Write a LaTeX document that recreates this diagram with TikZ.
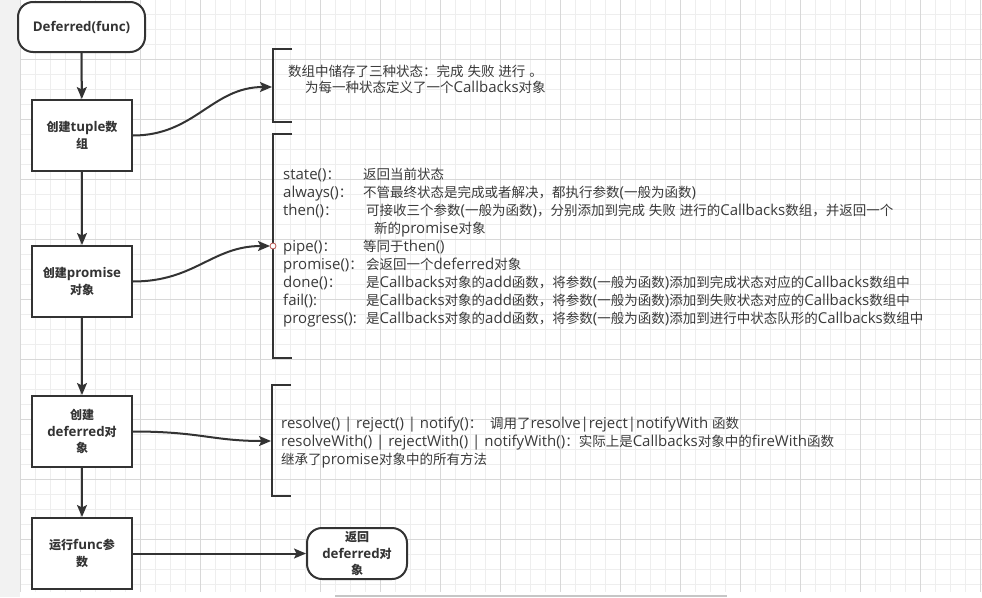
\documentclass[tikz,border=0pt]{standalone}
\usepackage{fontspec}
\setmainfont{Open Sans}[Scale=1.11]
\newfontfamily\cjkf{Noto Sans CJK SC}
\newfontfamily\latf{Open Sans}[Scale=1.11]
\XeTeXinterchartokenstate=1
\newXeTeXintercharclass\cjkcls
\newcount\cjkcnt
\cjkcnt="4E00
\loop \XeTeXcharclass\cjkcnt=\cjkcls \advance\cjkcnt by 1 \ifnum\cjkcnt<"A000 \repeat
\cjkcnt="3000
\loop \XeTeXcharclass\cjkcnt=\cjkcls \advance\cjkcnt by 1 \ifnum\cjkcnt<"3040 \repeat
\cjkcnt="FF00
\loop \XeTeXcharclass\cjkcnt=\cjkcls \advance\cjkcnt by 1 \ifnum\cjkcnt<"FFF0 \repeat
\XeTeXinterchartoks 0 \cjkcls = {\cjkf}
\XeTeXinterchartoks 4095 \cjkcls = {\cjkf}
\XeTeXinterchartoks \cjkcls 0 = {\latf}
\XeTeXinterchartoks \cjkcls 4095 = {\latf}
\usetikzlibrary{arrows.meta}
\definecolor{ink}{HTML}{333333}
\definecolor{txtc}{HTML}{3a3a3a}
\definecolor{gmin}{HTML}{EEEEEE}
\definecolor{gmaj}{HTML}{D8D8D8}
\definecolor{side}{HTML}{F2F2F2}
\definecolor{dotc}{HTML}{B85450}
\tikzset{
  boxn/.style={draw=ink, line width=2pt, fill=white, minimum width=100pt, minimum height=71pt,
    inner sep=1pt, font=\bfseries\fontsize{12}{16.5}\selectfont, align=center, text=ink},
  termn/.style={boxn, rounded corners=15pt},
  conn/.style={draw=ink, line width=2pt, -{Stealth[length=12pt,width=10pt,inset=2.5pt]}},
  brk/.style={draw=ink, line width=2pt},
  txt/.style={font=\fontsize{13.5}{16}\selectfont, text=txtc, anchor=base west, inner sep=0pt},
  gminor/.style={draw=gmin, line width=0.8pt},
  gmajor/.style={draw=gmaj, line width=0.8pt}
}
\begin{document}
\begin{tikzpicture}[x=1pt,y=-1pt]
\useasboundingbox (0,0) rectangle (982,597);
% background
\fill[white] (0,0) rectangle (982,597);
\fill[side] (0,0) rectangle (20,597);
\foreach \x in {20,35,...,980} \draw[gminor] (\x,0) -- (\x,592);
\foreach \y in {14,29,...,590} \draw[gminor] (20,\y) -- (982,\y);
\foreach \x in {20,80,...,980} \draw[gmajor] (\x,0) -- (\x,592);
\foreach \y in {59,119,...,590} \draw[gmajor] (20,\y) -- (982,\y);
\fill[gray!45] (335,595) rectangle (727,597);

% flow nodes
\node[termn, minimum width=127pt, minimum height=50pt] (start) at (81.5,27) {Deferred(func)};
\node[boxn] (tuple) at (82,135.5) {创建tuple数\\组};
\node[boxn] (prom) at (82,281.5) {创建promise\\对象};
\node[boxn] (defer) at (82,431.5) {创建\\deferred对\\象};
\node[boxn] (run) at (82,553.5) {运行func参\\数};
\node[termn, minimum width=100pt, minimum height=51pt] (ret) at (357,553.5) {返回\\deferred对\\象};

% brackets
\draw[brk] (292,49) -| (273,122) -- (292,122);
\draw[brk] (292,134) -| (273,358) -- (292,358);
\draw[brk] (291,385) -| (272,496) -- (291,496);

\coordinate (b1) at (272,87);
\coordinate (b2) at (270,246);
\coordinate (b3) at (271,441);

% connectors
\draw[conn] (start) -- (tuple);
\draw[conn] (tuple) -- (prom);
\draw[conn] (prom) -- (defer);
\draw[conn] (defer) -- (run);
\draw[conn] (run) -- (ret);
\draw[conn] (tuple.east) .. controls (195,135.5) and (212,87) .. (b1);
\draw[conn] (prom.east) .. controls (195,281.5) and (212,246) .. (b2);
\draw[conn] (defer.east) .. controls (200,431.5) and (212,441) .. (b3);
\node[circle, draw=dotc, fill=white, line width=0.8pt, inner sep=0pt, minimum size=6pt] (dot) at (273,246) {};

% bracket 1 text
\node[txt] (t1a) at (288,76) {数组中储存了三种状态：完成 失败 进行 。};
\node[txt] (t1b) at (305,92) {为每一种状态定义了一个Callbacks对象};

% bracket 2 text
\node[txt] (l1) at (283,179) {state()：};
\node[txt] (d1) at (363,179) {返回当前状态};
\node[txt] (l2) at (283,197) {always()：};
\node[txt] (d2) at (363,197) {不管最终状态是完成或者解决，都执行参数(一般为函数)};
\node[txt] (l3) at (283,215) {then()：};
\node[txt] (d3) at (366,215) {可接收三个参数(一般为函数)，分别添加到完成 失败 进行的Callbacks数组，并返回一个};
\node[txt] (d3b) at (374,233) {新的promise对象};
\node[txt] (l4) at (283,251) {pipe()：};
\node[txt] (d4) at (363,251) {等同于then()};
\node[txt] (l5) at (283,269) {promise()：};
\node[txt] (d5) at (366,269) {会返回一个deferred对象};
\node[txt] (l6) at (283,287) {done()：};
\node[txt] (d6) at (366,287) {是Callbacks对象的add函数，将参数(一般为函数)添加到完成状态对应的Callbacks数组中};
\node[txt] (l7) at (283,305) {fail():};
\node[txt] (d7) at (366,305) {是Callbacks对象的add函数，将参数(一般为函数)添加到失败状态对应的Callbacks数组中};
\node[txt] (l8) at (283,323) {progress():};
\node[txt] (d8) at (366,323) {是Callbacks对象的add函数，将参数(一般为函数)添加到进行中状态队形的Callbacks数组中};

% bracket 3 text
\node[txt] (r1) at (281,428) {resolve() | reject() | notify()：\ \ 调用了resolve|reject|notifyWith 函数};
\node[txt] (r2) at (281,446) {resolveWith() | rejectWith() | notifyWith()：实际上是Callbacks对象中的fireWith函数};
\node[txt] (r3) at (281,464) {继承了promise对象中的所有方法};
\end{tikzpicture}
\end{document}
